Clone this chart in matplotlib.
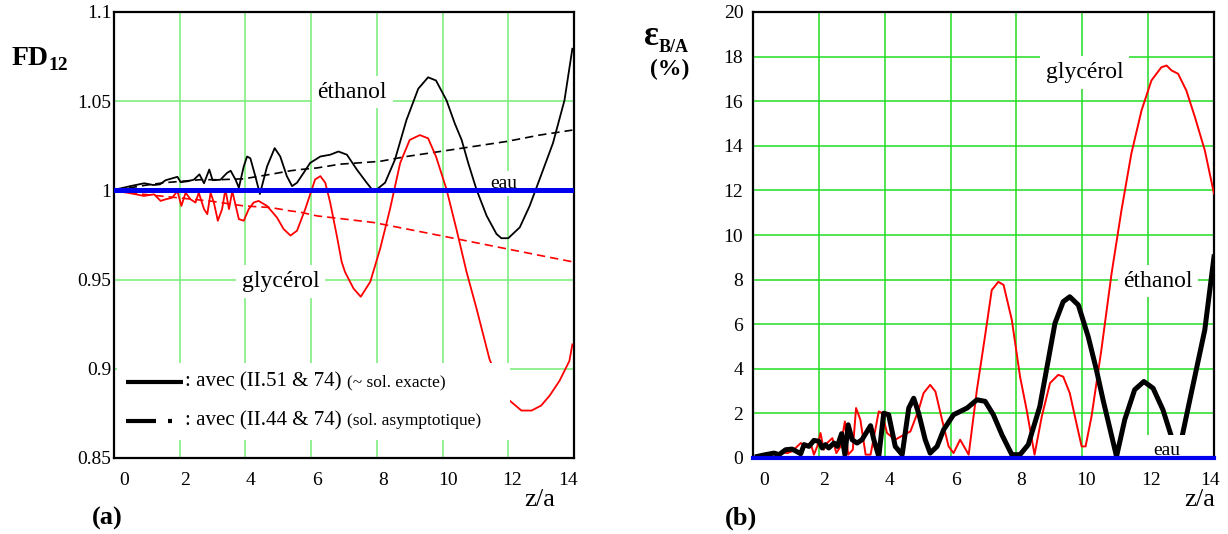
import matplotlib
matplotlib.use("Agg")
import matplotlib.pyplot as plt
from matplotlib.patches import Rectangle
from matplotlib.transforms import ScaledTranslation

plt.rcParams['font.family'] = ['Liberation Serif', 'DejaVu Serif']

# ---- (a) FD12 -------------------------------------------------------------
eth_exact_x = [0.05, 0.5, 0.92, 1.2, 1.4, 1.57, 1.93, 2.03, 2.23, 2.43, 2.6, 2.74, 2.9, 3.0, 3.24,
               3.44, 3.55, 3.7, 3.8, 3.95, 4.05, 4.15, 4.3, 4.44, 4.66, 4.89, 5.06, 5.26, 5.42, 5.57,
               5.77, 5.97, 6.28, 6.58, 6.83, 7.09, 7.39, 7.69, 7.85, 8.0, 8.25, 8.55, 8.9, 9.26, 9.56,
               9.8, 10.12, 10.37, 10.58, 10.78, 11.03, 11.34, 11.64, 11.79, 12.0, 12.35, 12.65, 12.95,
               13.36, 13.71, 13.95]
eth_exact_y = [1.0005, 1.0024, 1.004, 1.003, 1.0034, 1.0057, 1.0076, 1.0046, 1.0051, 1.006, 1.009,
               1.004, 1.0117, 1.0057, 1.006, 1.0098, 1.011, 1.006, 1.0015, 1.0135, 1.019, 1.018, 1.008,
               0.998, 1.0135, 1.0237, 1.019, 1.008, 1.0024, 1.0043, 1.0098, 1.0154, 1.019, 1.02, 1.0218,
               1.02, 1.0117, 1.0043, 1.0006, 1.0006, 1.0043, 1.0172, 1.0394, 1.057, 1.0634, 1.0616,
               1.0505, 1.0376, 1.0283, 1.0154, 1.0006, 0.9858, 0.9756, 0.9732, 0.9732, 0.9793, 0.9913,
               1.0061, 1.0265, 1.0505, 1.0794]

eth_asym_x = [0.05, 0.5, 1.0, 1.52, 2.0, 2.63, 3.2, 3.95, 4.76, 5.37, 5.67, 6.18, 6.88, 7.5, 8.1,
              8.9, 9.92, 10.93, 11.94, 12.95, 13.95]
eth_asym_y = [1.0, 1.0015, 1.003, 1.0043, 1.005, 1.006, 1.006, 1.0065, 1.009, 1.011, 1.0117, 1.0126,
              1.0147, 1.0155, 1.0163, 1.019, 1.0218, 1.0246, 1.0274, 1.031, 1.0338]

gly_exact_x = [0.05, 0.41, 0.91, 1.22, 1.42, 1.57, 1.77, 1.93, 2.05, 2.18, 2.33, 2.48, 2.58, 2.74,
               2.84, 2.94, 3.04, 3.16, 3.29, 3.39, 3.5, 3.6, 3.8, 3.95, 4.1, 4.25, 4.4, 4.66, 4.96,
               5.16, 5.37, 5.57, 5.82, 5.97, 6.12, 6.28, 6.43, 6.58, 6.78, 6.93, 7.03, 7.29, 7.51,
               7.8, 8.1, 8.4, 8.71, 9.0, 9.31, 9.56, 9.8, 10.12, 10.42, 10.73, 11.03, 11.43, 11.8,
               12.04, 12.4, 12.71, 13.0, 13.26, 13.56, 13.86, 13.95]
gly_exact_y = [0.9996, 0.9987, 0.9969, 0.9978, 0.9941, 0.995, 0.9959, 0.9996, 0.9913, 0.9987, 0.995,
               0.9932, 0.9987, 0.9895, 0.9867, 0.9987, 0.9932, 0.983, 0.9895, 1.0006, 0.9895, 0.9996,
               0.9839, 0.983, 0.9895, 0.9932, 0.9941, 0.9913, 0.9848, 0.9784, 0.9747, 0.9774, 0.9895,
               0.9978, 1.0061, 1.008, 1.0043, 0.9932, 0.9747, 0.9599, 0.9543, 0.945, 0.9404, 0.9488,
               0.9673, 0.9895, 1.0154, 1.0283, 1.031, 1.0292, 1.019, 1.0006, 0.9784, 0.9543, 0.934,
               0.9053, 0.889, 0.8822, 0.8766, 0.8766, 0.8794, 0.885, 0.8933, 0.9044, 0.9137]

gly_asym_x = [0.05, 0.91, 1.93, 2.94, 3.95, 4.76, 5.37, 5.67, 6.18, 6.98, 7.9, 8.9, 9.92, 10.93,
              11.94, 12.95, 13.95]
gly_asym_y = [1.0, 0.9978, 0.9959, 0.994, 0.9913, 0.9904, 0.9885, 0.9878, 0.9857, 0.984, 0.982,
              0.9784, 0.9747, 0.971, 0.9673, 0.9636, 0.96]

fd_ticks = [0.85, 0.9, 0.95, 1.0, 1.05, 1.1]
fd_labels = ["0.85", "0.9", "0.95", "1", "1.05", "1.1"]

# ---- (b) epsilon B/A (%) --------------------------------------------------
eps_eth_x = [0.13, 0.38, 0.64, 0.79, 0.99, 1.19, 1.45, 1.55, 1.7, 1.85, 2.0, 2.1, 2.2, 2.3, 2.46,
             2.56, 2.69, 2.79, 2.89, 3.01, 3.16, 3.31, 3.57, 3.67, 3.82, 3.97, 4.12, 4.32, 4.53,
             4.73, 4.88, 5.03, 5.23, 5.38, 5.59, 5.79, 6.09, 6.5, 6.8, 7.05, 7.3, 7.56, 7.86, 8.11,
             8.36, 8.71, 9.17, 9.42, 9.62, 9.88, 10.18, 10.43, 10.63, 11.04, 11.29, 11.59, 11.87,
             12.15, 12.45, 12.69, 12.88, 13.01, 13.31, 13.72, 14.0]
eps_eth_y = [0.07, 0.15, 0.22, 0.15, 0.37, 0.40, 0.19, 0.6, 0.52, 0.79, 0.75, 0.45, 0.6, 0.45, 0.67,
             0.52, 1.09, 0.15, 1.49, 0.82, 0.67, 0.82, 1.45, 0.82, 0.07, 2.01, 1.94, 0.52, 0.15,
             2.24, 2.68, 2.01, 0.82, 0.22, 0.52, 1.27, 1.94, 2.24, 2.61, 2.54, 1.94, 1.04, 0.15,
             0.15, 0.6, 2.31, 6.04, 7.01, 7.23, 6.86, 5.44, 3.95, 2.61, 0.07, 1.72, 3.06, 3.43,
             3.13, 2.16, 1.04, 0.05, 0.82, 2.91, 5.74, 9.02]

eps_gly_x = [0.13, 0.49, 0.89, 1.04, 1.19, 1.45, 1.6, 1.75, 1.85, 1.95, 2.05, 2.15, 2.25, 2.41,
             2.53, 2.66, 2.79, 2.89, 3.03, 3.13, 3.26, 3.42, 3.57, 3.82, 3.92, 4.07, 4.32, 4.58,
             4.78, 5.03, 5.18, 5.38, 5.54, 5.74, 5.94, 6.09, 6.29, 6.55, 6.8, 7.05, 7.25, 7.45,
             7.61, 7.86, 8.11, 8.31, 8.55, 8.77, 9.02, 9.27, 9.42, 9.62, 9.82, 9.98, 10.1, 10.28,
             10.58, 10.89, 11.19, 11.49, 11.8, 12.1, 12.4, 12.56, 12.71, 12.91, 13.16, 13.42,
             13.72, 14.0]
eps_gly_y = [0.07, 0.15, 0.25, 0.22, 0.3, 0.67, 0.52, 0.67, 0.15, 0.52, 1.12, 0.37, 0.67, 0.89,
             0.22, 0.52, 1.64, 0.15, 0.37, 2.24, 1.72, 0.15, 0.15, 2.09, 2.01, 1.12, 0.82, 1.04,
             1.19, 2.16, 2.91, 3.28, 2.98, 1.72, 0.52, 0.22, 0.82, 0.15, 3.06, 5.5, 7.53, 7.9,
             7.76, 6.19, 3.65, 2.16, 0.15, 1.86, 3.36, 3.73, 3.65, 2.91, 1.57, 0.52, 0.52, 1.86,
             4.85, 8.28, 11.11, 13.65, 15.59, 16.93, 17.52, 17.6, 17.38, 17.23, 16.48, 15.29,
             13.8, 11.86]

eps_ticks = list(range(0, 21, 2))
z_ticks = list(range(0, 15, 2))

fig = plt.figure(figsize=(12.28, 5.34), dpi=100)
axa = fig.add_axes([114 / 1228, 76 / 534, 460 / 1228, 446 / 534])
axb = fig.add_axes([753 / 1228, 76 / 534, 461 / 1228, 446 / 534])


def setup(ax, gcol, ylim, yticks, ylabels, ypad, xoffs):
    ax.set_xlim(0, 14)
    ax.set_ylim(*ylim)
    ax.set_xticks(z_ticks)
    ax.set_yticks(yticks)
    ax.set_yticklabels(ylabels)
    ax.set_axisbelow(True)
    ax.grid(True, color=gcol, lw=1.1)
    ax.tick_params(length=0, labelsize=14)
    ax.tick_params(axis='x', pad=10)
    ax.tick_params(axis='y', pad=ypad)
    for s in ax.spines.values():
        s.set_linewidth(1.6)
    for lab, dx in zip(ax.get_xticklabels(), xoffs):
        lab.set_transform(lab.get_transform() + ScaledTranslation(dx / 100, 0, fig.dpi_scale_trans))


setup(axa, '#77ee77', (0.85, 1.1), fd_ticks, fd_labels, 2, [10, 5, 5, 6, 6, 5, 4, -6])
setup(axb, '#22dd22', (0, 20), eps_ticks, [str(t) for t in eps_ticks], 7, [11, 5, 5, 5, 5, 4, 3, -4])

# panel (a)
axa.axhline(1.0, color='#0000ee', lw=3.6, zorder=6)
axa.plot(eth_asym_x, eth_asym_y, color='black', lw=1.2, dashes=(5, 3), zorder=3)
axa.plot(gly_asym_x, gly_asym_y, color='red', lw=1.2, dashes=(5, 3), zorder=3)
axa.plot(gly_exact_x, gly_exact_y, color='red', lw=1.3, zorder=3)
axa.plot(eth_exact_x, eth_exact_y, color='black', lw=1.3, zorder=3)

lbl = dict(fontsize=17, ha='center', va='center', zorder=2,
           bbox=dict(fc='white', ec='none', pad=4))
axa.text(7.25, 1.055, "éthanol", **lbl)
axa.text(5.07, 0.949, "glycérol", **lbl)
axa.text(11.86, 1.0012, "eau", fontsize=14, ha='center', va='baseline', zorder=2,
         bbox=dict(fc='white', ec='none', pad=3))

# legend block
axa.add_patch(Rectangle((0.0065, 0.04), 0.855, 0.173, transform=axa.transAxes,
                        fc='white', ec='none', zorder=4))
axa.plot([0.026, 0.150], [0.170, 0.170], transform=axa.transAxes, color='black', lw=3,
         solid_capstyle='butt', zorder=5)
axa.plot([0.026, 0.091], [0.083, 0.083], transform=axa.transAxes, color='black', lw=3,
         solid_capstyle='butt', zorder=5)
axa.plot([0.117, 0.126], [0.083, 0.083], transform=axa.transAxes, color='black', lw=3,
         solid_capstyle='butt', zorder=5)
t1 = axa.text(0.154, 0.170, ": avec (II.51 & 74)", transform=axa.transAxes, fontsize=15,
              va='center', zorder=6)
t2 = axa.text(0.154, 0.083, ": avec (II.44 & 74)", transform=axa.transAxes, fontsize=15,
              va='center', zorder=6)
axa.annotate("(~ sol. exacte)", xy=(1, 0.5), xycoords=t1, xytext=(4, 0),
             textcoords='offset points', fontsize=12.5, va='center', zorder=6)
axa.annotate("(sol. asymptotique)", xy=(1, 0.5), xycoords=t2, xytext=(4, 0),
             textcoords='offset points', fontsize=12.5, va='center', zorder=6)

# panel (b)
axb.axhline(0.0, color='#0000ee', lw=3, zorder=6, clip_on=False)
axb.plot(eps_gly_x, eps_gly_y, color='red', lw=1.4, zorder=3)
axb.plot(eps_eth_x, eps_eth_y, color='black', lw=3.6, zorder=3)
axb.text(10.08, 17.28, "glycérol", **lbl)
axb.text(12.3, 7.93, "éthanol", **lbl)
axb.text(12.55, 0.15, "eau", fontsize=14, ha='center', va='baseline', zorder=4,
         bbox=dict(fc='white', ec='none', pad=5))

# figure-level titles
fig.text(12 / 1228, 1 - 65 / 534, "FD", fontsize=20, fontweight='bold', va='baseline')
fig.text(48 / 1228, 1 - 70 / 534, "12", fontsize=14, fontweight='bold', va='baseline')
fig.text(644 / 1228, 1 - 45 / 534, "ε", fontsize=25, fontweight='bold', va='baseline')
fig.text(659 / 1228, 1 - 52 / 534, "B/A", fontsize=13, fontweight='bold', va='baseline')
fig.text(670 / 1228, 1 - 69 / 534, "(%)", fontsize=17, fontweight='bold', ha='center', va='center')
fig.text(107 / 1228, 1 - 518 / 534, "(a)", fontsize=19, fontweight='bold', ha='center', va='center')
fig.text(741 / 1228, 1 - 518 / 534, "(b)", fontsize=19, fontweight='bold', ha='center', va='center')
fig.text(540 / 1228, 1 - 500 / 534, "z/a", fontsize=19, ha='center', va='center')
fig.text(1200 / 1228, 1 - 500 / 534, "z/a", fontsize=19, ha='center', va='center')

fig.savefig("out.png", dpi=100)
